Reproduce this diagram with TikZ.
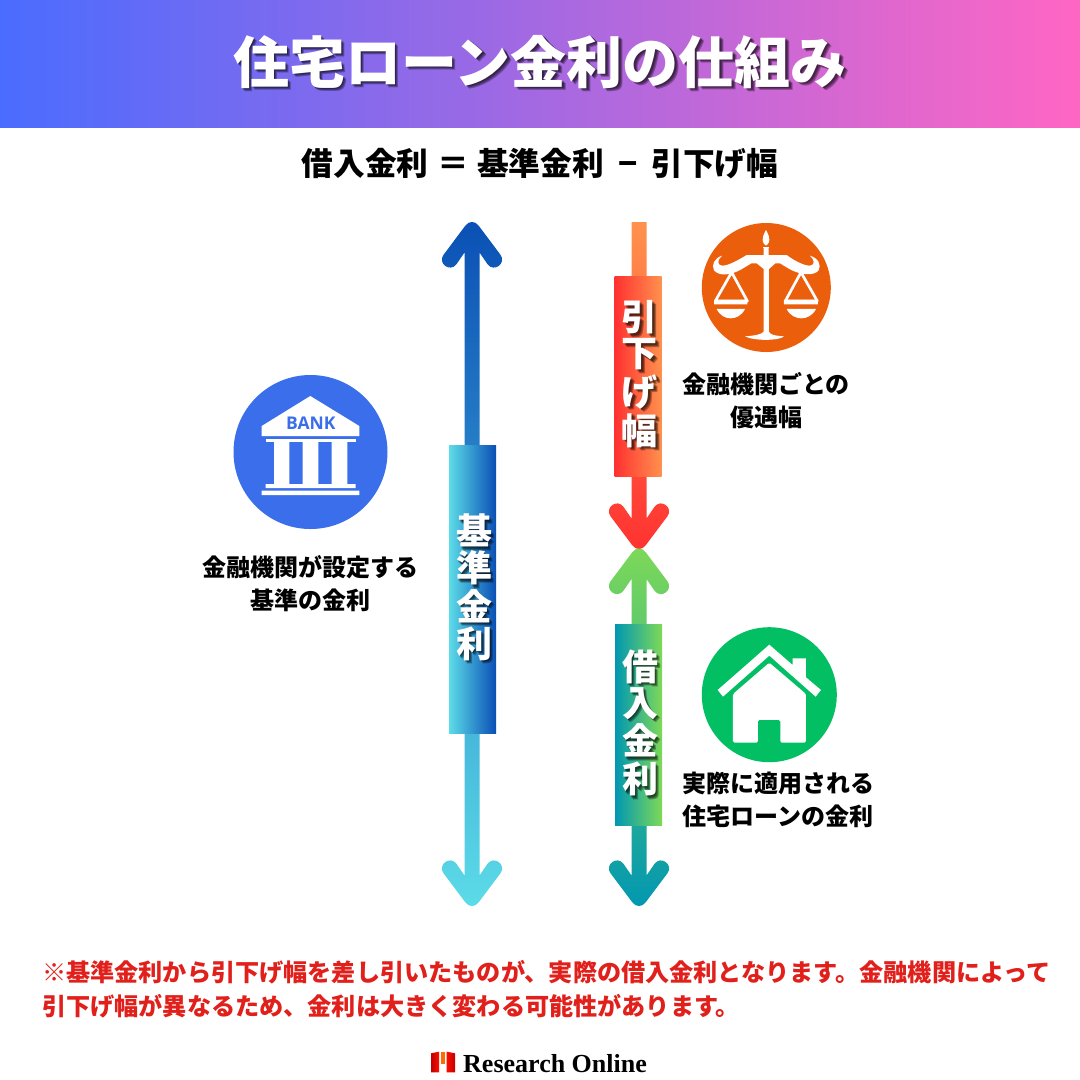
\documentclass[tikz,border=0pt]{standalone}
\usepackage{fontspec}
\setmainfont{Noto Sans CJK JP}
\newfontfamily\latinfont{Open Sans}
\newfontfamily\logofont{Liberation Serif}
\usetikzlibrary{shapes}
\definecolor{bandleft}{HTML}{4A6CFF}
\definecolor{bandright}{HTML}{FF66C4}
\definecolor{bankblue}{HTML}{3A6EEA}
\definecolor{scaleorange}{HTML}{EB5E0B}
\definecolor{housegreen}{HTML}{02BF63}
\definecolor{noteRed}{HTML}{E1201B}
\definecolor{deepblue}{HTML}{0A4FB5}
\definecolor{skyblue}{HTML}{5CDCE8}
\definecolor{hotred}{HTML}{FF3131}
\definecolor{softorange}{HTML}{FF914D}
\definecolor{leafgreen}{HTML}{7ED957}
\definecolor{tealblue}{HTML}{0097B2}
% one arrow head as a piece of path: x, tip y, direction of the shaft, side to start from
\newcommand{\headpath}[4]{%
  -- ({#1-#4*7.5},{#2+#3*30}) -- ({#1-#4*15.6},{#2+#3*41.8})
  .. controls ({#1-#4*22},{#2+#3*50.3}) and ({#1-#4*34.8},{#2+#3*40.7}) .. ({#1-#4*28.4},{#2+#3*32.2})
  [rounded corners=11pt] -- ({#1},{#2-#3*5.7}) [sharp corners] -- ({#1+#4*28.4},{#2+#3*32.2})
  .. controls ({#1+#4*34.8},{#2+#3*40.7}) and ({#1+#4*22},{#2+#3*50.3}) .. ({#1+#4*15.6},{#2+#3*41.8})
  -- ({#1+#4*7.5},{#2+#3*30})}
% soft shadow, three thin layers
\newcommand{\shadowlayer}[2]{\rlap{\kern#1pt\raisebox{-#1pt}{\pgfsetfillopacity{0.3}\textcolor{black}{#2}\pgfsetfillopacity{1}}}}
\newcommand{\shadowtext}[1]{\shadowlayer{3.5}{#1}\shadowlayer{2.5}{#1}\shadowlayer{1.5}{#1}\textcolor{white}{#1}}
\newcommand{\barchar}[1]{\hspace*{3pt}\shadowtext{#1}}
\begin{document}
\begin{tikzpicture}[x=1pt,y=-1pt]
    \tikzstyle{label}=[font=\fontsize{24}{33.5}\selectfont\bfseries,align=center,inner sep=0pt]
    \tikzstyle{bar}=[minimum width=47pt,inner sep=0pt,align=center,
      font=\fontsize{36}{37}\selectfont\bfseries]
    \tikzstyle{shortbar}=[bar,font=\fontsize{36}{36}\selectfont\bfseries]
    \useasboundingbox[fill=white] (0,0) rectangle (1080,1080);
    % title band
    \node (band) at (540,63.5) [minimum width=1080pt,minimum height=127pt,inner sep=0pt,
      left color=bandleft,right color=bandright,font=\fontsize{56}{60}\selectfont\bfseries]
      {\shadowtext{住宅ローン金利の仕組み}};
    \node (formula) at (540,164) [font=\fontsize{31.7}{36}\selectfont\bfseries,inner sep=0pt]
      {借入金利\hspace{9pt}＝\hspace{8pt}基準金利\hspace{14pt}−\hspace{14pt}引下げ幅};
    % arrows
    \path[top color=deepblue,bottom color=skyblue]
      (464.5,300) \headpath{472}{222.5}{1}{1} \headpath{472}{905.5}{-1}{-1} -- cycle;
    \path[top color=softorange,bottom color=hotred]
      (631.5,222) -- (646.5,222) \headpath{639}{548.5}{-1}{-1} -- cycle;
    \path[top color=leafgreen,bottom color=tealblue]
      (631.5,600) \headpath{639}{549}{1}{1} \headpath{639}{905.5}{-1}{-1} -- cycle;
    % bars
    \node (base) at (472.5,589) [bar,minimum height=288pt,left color=skyblue,right color=deepblue]
      {\barchar{基}\\\barchar{準}\\\barchar{金}\\\barchar{利}};
    \node (cut) at (638,376) [shortbar,minimum height=200pt,left color=hotred,right color=softorange]
      {\barchar{引}\\\barchar{下}\\\barchar{げ}\\\barchar{幅}};
    \node (loan) at (638.5,724.5) [shortbar,minimum height=201pt,left color=tealblue,right color=leafgreen]
      {\barchar{借}\\\barchar{入}\\\barchar{金}\\\barchar{利}};
    % bank
    \node (bankicon) at (310.5,452) [circle,fill=bankblue,minimum size=154pt,inner sep=0pt] {};
    \fill[white] (310.3,396) -- (359.3,426) -- (359.3,436) -- (261.7,436) -- (261.7,426) -- cycle;
    \fill[white] (265.7,439) rectangle (355.7,442.3);
    \fill[white] (274,442) rectangle (289.3,484) (302.7,442) rectangle (318.3,484) (331.7,442) rectangle (347.3,484);
    \fill[white] (265.7,484) rectangle (355.7,488) (261.7,490.7) rectangle (359.3,495);
    \node (bankname) at (310.8,423) [text=bankblue,inner sep=0pt,font=\latinfont\fontsize{17.5}{17}\selectfont\bfseries] {BANK};
    \node (banklabel) at (310,583.5) [label] {金融機関が設定する\\基準の金利};
    % scales
    \node (scaleicon) at (766.3,287.5) [circle,fill=scaleorange,minimum size=129pt,inner sep=0pt] {};
    \begin{scope}[shift={(690,215)},x=0.3333pt,y=-0.3333pt]
      \fill[white] (228,45) .. controls (236,60) and (238,66) .. (238,74) .. controls (238,84) and (232,90) .. (228,92)
        .. controls (224,90) and (218,84) .. (218,74) .. controls (218,66) and (220,60) .. (228,45);
      \fill[white] (218,95) rectangle (238,100);
      \fill[white] (221,99) -- (236,99) -- (236,120) -- (290,120) .. controls (310,135) and (340,152) .. (360,152)
        .. controls (376,150) and (374,135) .. (360,122) .. controls (386,130) and (394,150) .. (386,166)
        .. controls (372,184) and (330,180) .. (298,162) -- (270,145) -- (256,145) -- (237,162)
        -- (237,350) .. controls (240,358) and (250,362) .. (282,364) .. controls (268,378) and (190,378) .. (165,364)
        .. controls (195,362) and (215,358) .. (221,350) -- (221,162) -- (200,145) -- (184,145) -- (156,162)
        .. controls (122,182) and (86,184) .. (72,166) .. controls (64,150) and (72,130) .. (96,122)
        .. controls (82,135) and (80,150) .. (96,152) .. controls (116,152) and (145,135) .. (170,120)
        -- (221,120) -- cycle;
      \draw[white,line width=2.7pt,line join=round] (125,172) -- (76,258) -- (172,258) -- cycle;
      \draw[white,line width=2.7pt,line join=round] (333,172) -- (286,258) -- (382,258) -- cycle;
      \fill[white] (72,255) rectangle (172,268) (282,255) rectangle (384,268);
      \fill[white] (80,282) -- (165,282) .. controls (155,302) and (138,310) .. (122,310) .. controls (106,310) and (90,302) .. (80,282);
      \fill[white] (290,282) -- (378,282) .. controls (368,302) and (350,310) .. (334,310) .. controls (318,310) and (300,302) .. (290,282);
    \end{scope}
    \node (scalelabel) at (766,400.5) [label] {金融機関ごとの\\優遇幅};
    % house
    \node (houseicon) at (769.3,694.7) [circle,fill=housegreen,minimum size=135pt,inner sep=0pt] {};
    \begin{scope}[shift={(590,470)},x=0.3333pt,y=-0.3333pt]
      \fill[white] (538,524) -- (608,585) -- (608,565) -- (648,565) -- (648,622) -- (693,660) -- (677,680)
        -- (538,557) -- (399,680) -- (383,660) -- cycle;
      \fill[white,rounded corners=1.5pt] (429,672) -- (538,578) -- (648,672) -- (648,818) -- (571,818) -- (571,750)
        -- (504,750) -- (504,818) -- (429,818) -- cycle;
    \end{scope}
    \node (houselabel) at (778,800) [label] {実際に適用される\\住宅ローンの金利};
    % note
    \node (note) at (42,989) [label,anchor=west,align=left,text=noteRed,
      font=\fontsize{24.15}{33.5}\selectfont\bfseries]
      {※基準金利から引下げ幅を差し引いたものが、実際の借入金利となります。金融機関によって\\引下げ幅が異なるため、金利は大きく変わる可能性があります。};
    % logo
    \begin{scope}[shift={(420,1040)},x=0.3333pt,y=-0.3333pt]
      \shade[left color=red!75!black,right color=red!90!orange] (33,40) -- (57,35) -- (57,97) -- (33,97) -- cycle;
      \fill[orange!85!red] (62,35) rectangle (76,72);
      \shade[left color=red!90!orange,right color=red!75!black] (80,35) -- (105,40) -- (105,97) -- (80,97) -- cycle;
    \end{scope}
    \node (logo) at (463,1064) [anchor=west,inner sep=0pt,font=\logofont\fontsize{26}{26}\selectfont\bfseries] {Research Online};
  \end{tikzpicture}
\end{document}
